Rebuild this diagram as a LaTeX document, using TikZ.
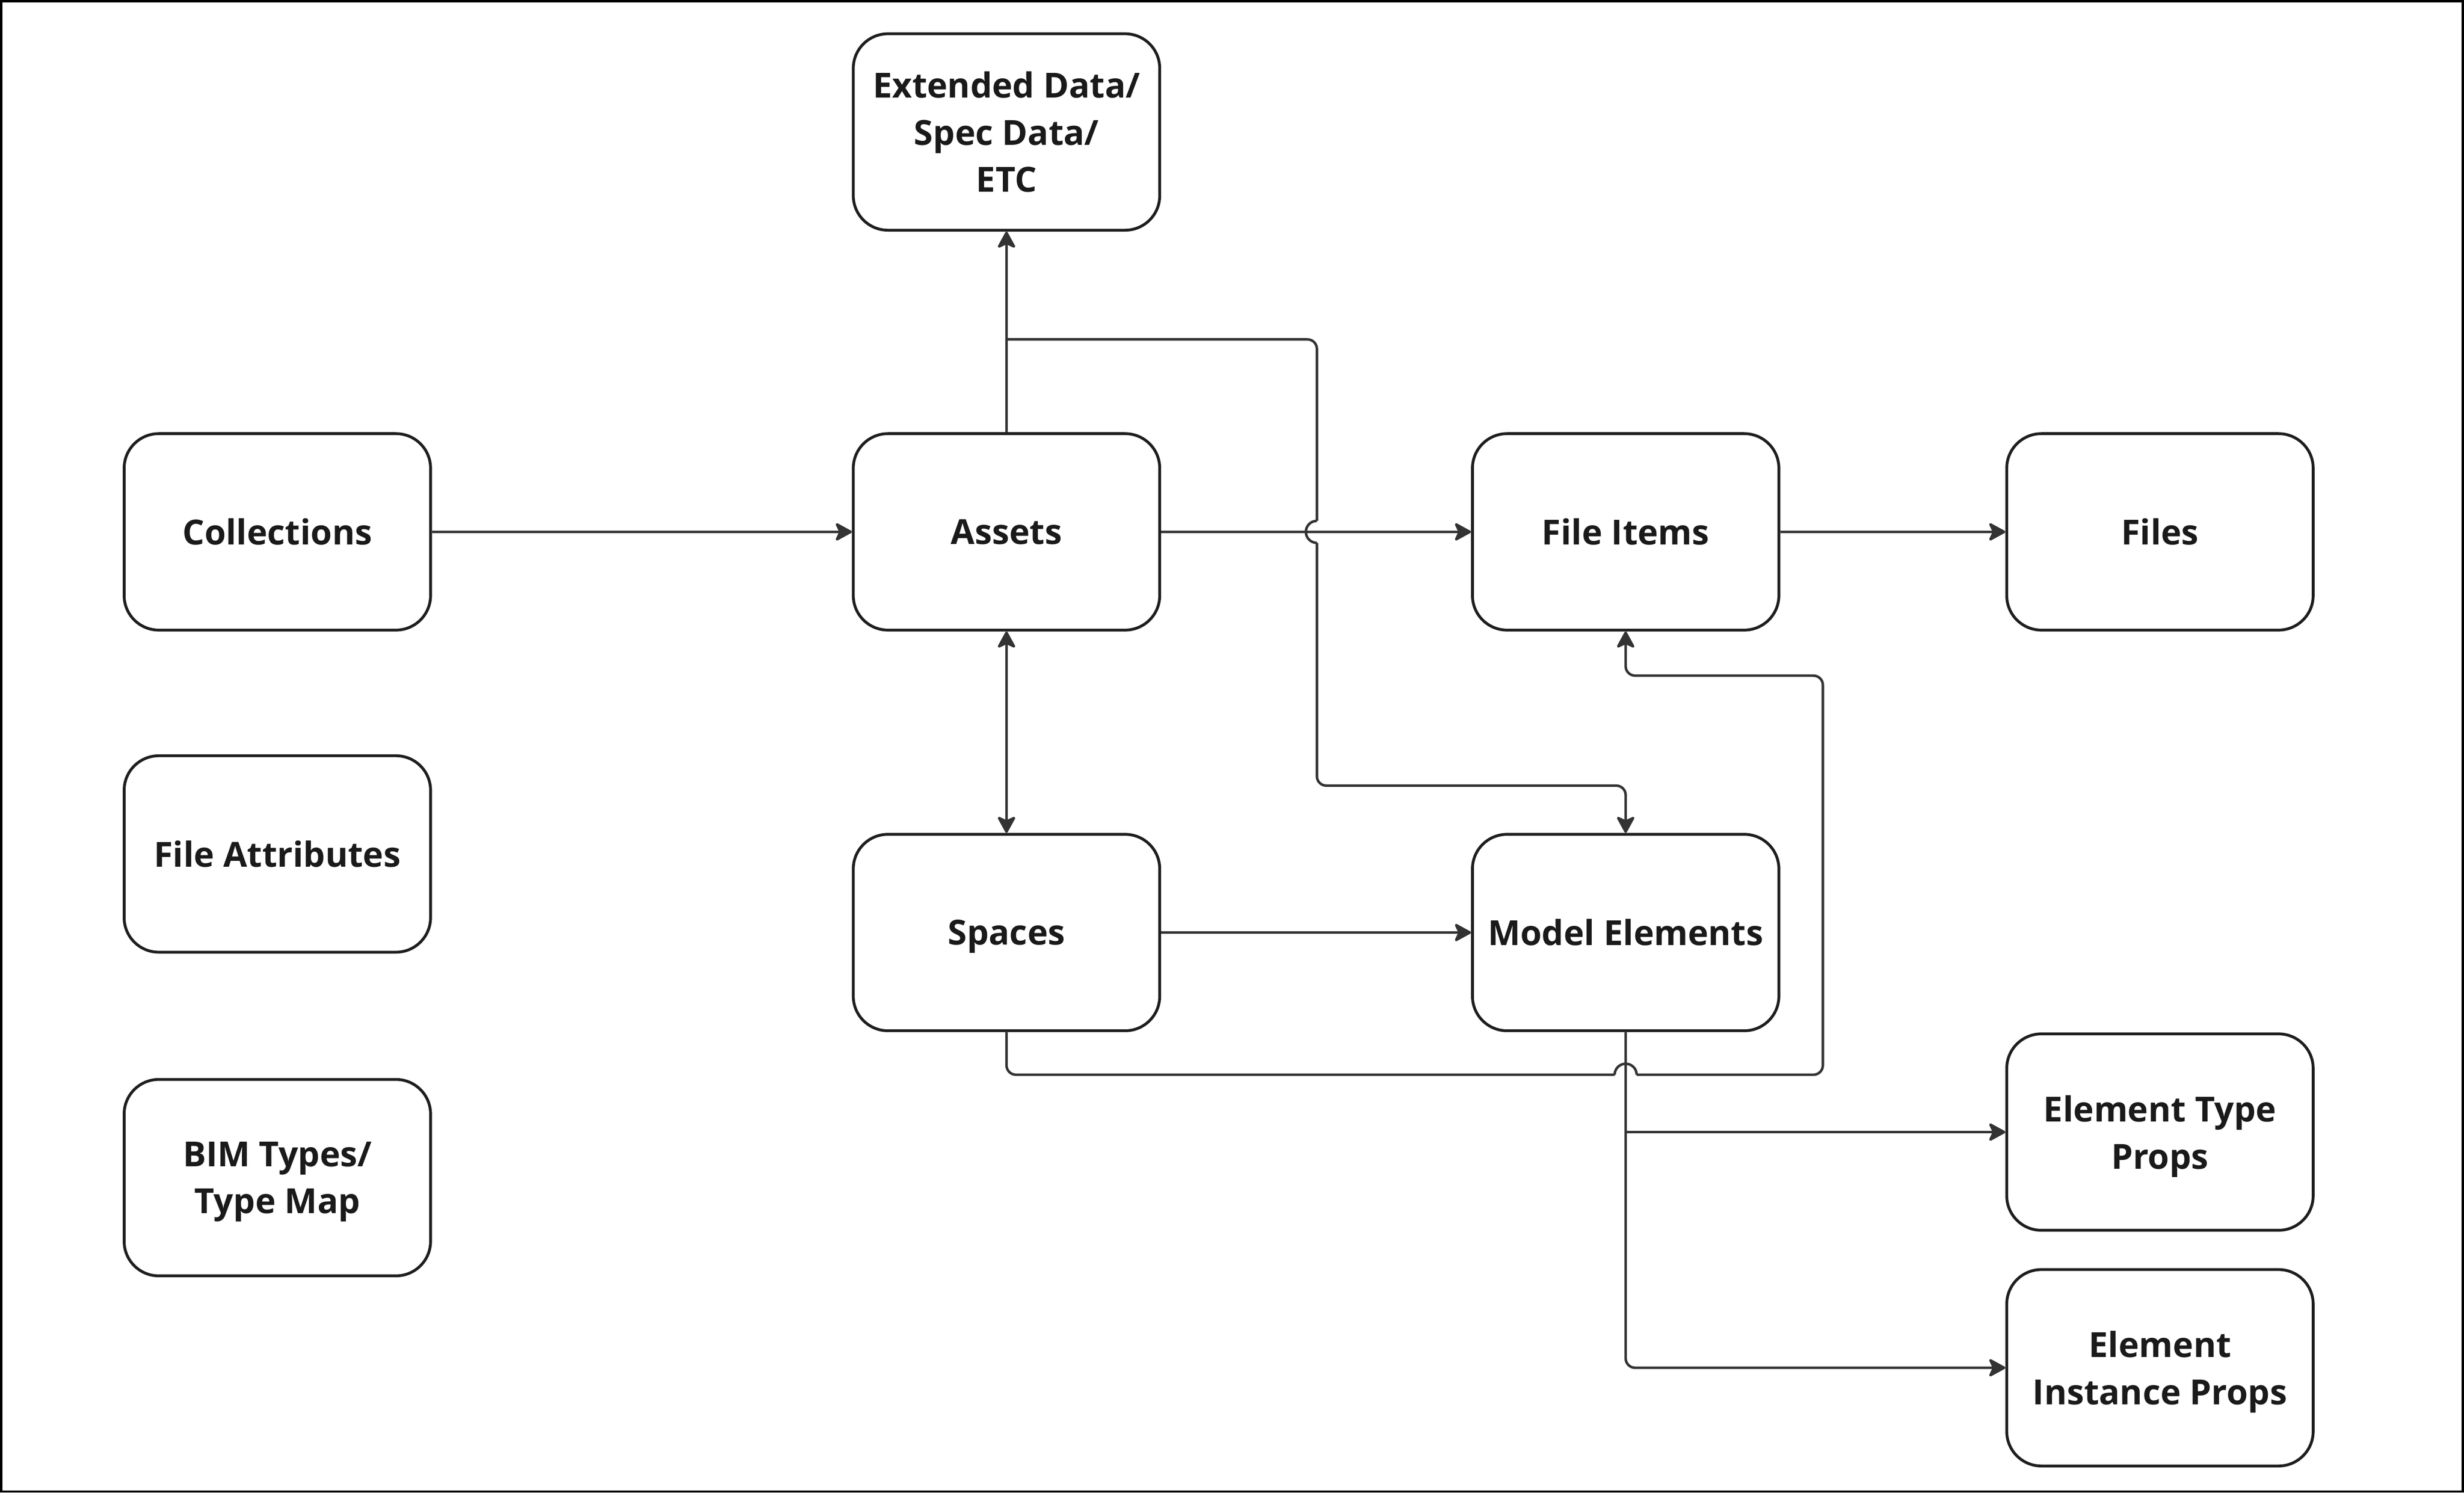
\documentclass[tikz,border=0pt]{standalone}
\usepackage{fontspec}
\setmainfont{Open Sans}
\usetikzlibrary{arrows.meta}
\definecolor{boxline}{HTML}{1E1E1E}
\definecolor{conn}{HTML}{333333}
\definecolor{txt}{HTML}{1A1A1A}
\newcommand\nodepth[1]{\raisebox{0pt}[\height][0pt]{#1}}
\begin{document}
\begin{tikzpicture}[x=1pt,y=-1pt,
 box/.style={draw=boxline, line width=1.8pt, rounded corners=22pt, minimum width=195pt, minimum height=125pt, align=center, font=\fontsize{22}{30}\selectfont\bfseries, text=txt, inner sep=0pt},
 conline/.style={draw=conn, line width=1.6pt},
 >={Stealth[length=12pt,width=13pt,inset=3pt,round]},
]
\path[use as bounding box] (0,0) rectangle (1568,950);
\draw[line width=1.5pt, draw=black] (0.75,0.75) rectangle (1567.25,949.25);

\node[box] (ext) at (640.5,84) {Extended Data/\\Spec Data/\\ETC};
\node[box] (coll) at (176.5,338.5) {Collections};
\node[box] (assets) at (640.5,338.5) {Assets};
\node[box] (fi) at (1034.5,338.5) {File Items};
\node[box] (files) at (1374.5,338.5) {Files};
\node[box] (fa) at (176.5,543.5) {File Attributes};
\node[box] (spaces) at (640.5,593.5) {\nodepth{Spaces}};
\node[box] (me) at (1034.5,593.5) {Model Elements};
\node[box] (bim) at (176.5,749.5) {BIM Types/\\\nodepth{Type Map}};
\node[box] (etp) at (1374.5,720.5) {Element Type\\\nodepth{Props}};
\node[box] (eip) at (1374.5,870.5) {Element\\\nodepth{Instance Props}};

\coordinate (j1) at (640.5,216);
\coordinate (b1) at (1034.5,720.5);
\coordinate (ja) at (838,331.5);
\coordinate (jb) at (838,345.5);
\coordinate (jc) at (1027.5,684);
\coordinate (jd) at (1041.5,684);

\draw[conline,->] (coll) -- (assets);
\draw[conline,->] (assets.north) -- (ext.south);
\draw[conline,->] (assets) -- (fi);
\draw[conline,->] (fi) -- (files);
\draw[conline,<->] (assets) -- (spaces);
\draw[conline,->] (spaces) -- (me);

% Assets -> Model Elements (with line jump)
\draw[conline, rounded corners=6pt] (j1) -- (838,216) -- (ja);
\draw[conline] (ja) .. controls (834.13,331.5) and (831,334.63) .. (831,338.5)
  .. controls (831,342.37) and (834.13,345.5) .. (jb);
\draw[conline,->, rounded corners=6pt] (jb) -- (838,500) -- (1034.5,500) -- (me.north);

% Spaces -> File Items (with line jump)
\draw[conline, rounded corners=6pt] (spaces.south) -- (640.5,684) -- (jc);
\draw[conline] (jc) .. controls (1027.5,680.13) and (1030.63,677) .. (1034.5,677)
  .. controls (1038.37,677) and (1041.5,680.13) .. (jd);
\draw[conline,->, rounded corners=6pt] (jd) -- (1160,684) -- (1160,430) -- (1034.5,430) -- (fi.south);

% Model Elements -> element props
\draw[conline,->, rounded corners=6pt] (me.south) -- (1034.5,870.5) -- (eip.west);
\draw[conline,->] (b1) -- (etp.west);
\end{tikzpicture}
\end{document}
